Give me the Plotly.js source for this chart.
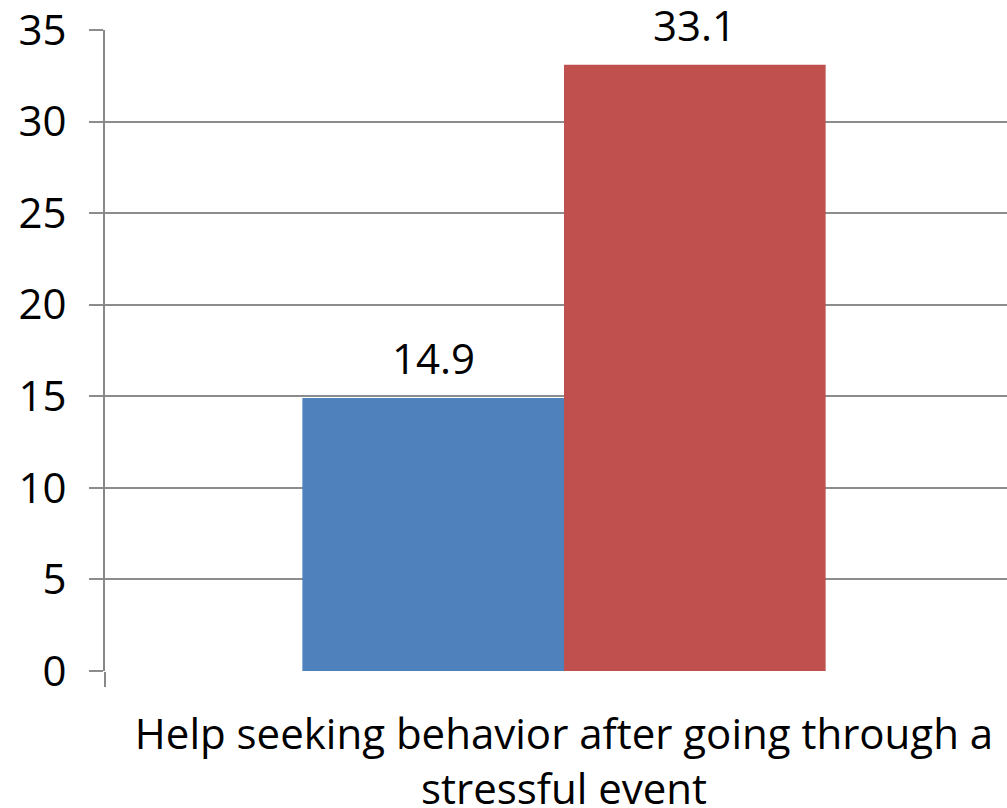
<!DOCTYPE html>
<html><head><meta charset="utf-8">
<script src="https://cdn.plot.ly/plotly-3.0.1.min.js"></script>
<style>html,body{margin:0;padding:0;background:#fff;}#chart{width:1007px;height:808px;}</style>
</head><body><div id="chart"></div>
<script>
const categories = ["Help seeking behavior after going through a<br>stressful event"];
const seriesA = [14.9];
const seriesB = [33.1];
const yTicks = [0, 5, 10, 15, 20, 25, 30, 35];

const FONT = "Open Sans, Liberation Sans, sans-serif";
const FS = 42;
const W = 1007, H = 808, ML = 105, MT = 30, MB = 137;
const bargap = 0.43;
const rangeMax = -0.5 + (W - ML) / 918;
const pxPerCat = (W - ML) / (rangeMax + 0.5);
const barW = pxPerCat * (1 - bargap) / 2;

const traces = [
  {type: 'bar', x: categories, y: seriesA, marker: {color: '#4F81BD'}, hoverinfo: 'y'},
  {type: 'bar', x: categories, y: seriesB, marker: {color: '#C0504D'}, hoverinfo: 'y'}
];

const annotations = [seriesA, seriesB].map((s, i) => ({
  x: categories[0], y: s[0], xref: 'x', yref: 'y',
  text: String(s[0]), showarrow: false,
  xanchor: 'center', yanchor: 'bottom',
  xshift: (i === 0 ? -1 : 1) * barW / 2, yshift: 10,
  font: {family: FONT, size: FS, color: '#000'}
}));

const layout = {
  width: W, height: H,
  margin: {l: ML, r: 0, t: MT, b: MB, pad: 0},
  paper_bgcolor: '#fff', plot_bgcolor: '#fff',
  showlegend: false,
  barmode: 'group', bargap: bargap, bargroupgap: 0,
  font: {family: FONT, size: FS, color: '#000'},
  xaxis: {
    type: 'category', range: [-0.5, rangeMax],
    showgrid: false, zeroline: false,
    showline: false,
    ticks: 'outside', tickson: 'boundaries', ticklen: 15, tickwidth: 2, tickcolor: '#888',
    ticklabelstandoff: 35,
    ticklabeloverflow: 'allow',
    tickfont: {family: FONT, size: FS, color: '#000'},
    automargin: false
  },
  yaxis: {
    range: [0, 35], tickvals: yTicks, ticktext: yTicks.map(String),
    showgrid: true, gridcolor: '#8c8c8c', gridwidth: 2,
    zeroline: false,
    showline: true, linecolor: '#888', linewidth: 2,
    ticks: 'outside', ticklen: 14, tickwidth: 2, tickcolor: '#8c8c8c',
    ticklabelstandoff: 14,
    ticklabeloverflow: 'allow',
    tickfont: {family: FONT, size: FS, color: '#000'},
    automargin: false
  },
  annotations: annotations
};

Plotly.newPlot('chart', traces, layout, {displayModeBar: false, staticPlot: true});
</script></body></html>
